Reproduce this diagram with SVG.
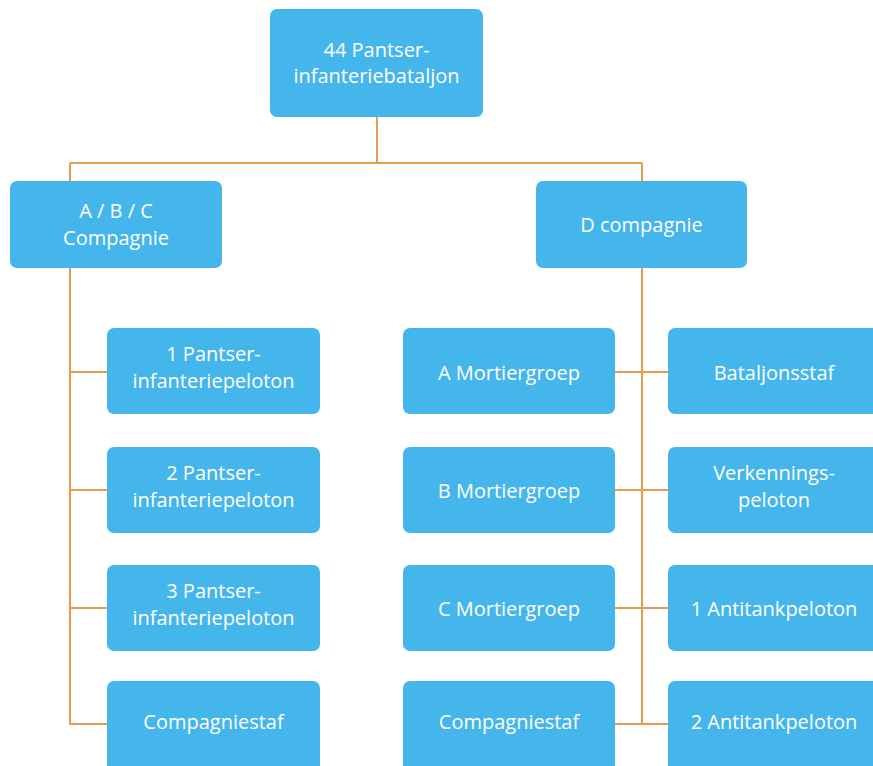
<svg xmlns="http://www.w3.org/2000/svg" width="873" height="766" viewBox="0 0 873 766">
<style>
.box{fill:#45b6eb;}
.lbl{font-family:"Open Sans","Noto Sans",sans-serif;font-size:20px;fill:#ffffff;text-anchor:middle;}
.ln{stroke:#e89a4f;stroke-width:2;fill:none;}
</style>
<rect width="873" height="766" fill="#ffffff"/>
<g id="connectors">
<path class="ln" d="M377 117 V163 M70 163 H642 M70 163 V181 M642 163 V181"/>
<path class="ln" d="M70 268 V724 H107 M70 372 H107 M70 490 H107 M70 608 H107"/>
<path class="ln" d="M642 268 V724 M615 372 H668 M615 490 H668 M615 608 H668 M615 724 H668"/>
</g>
<g id="n-top"><rect class="box" x="270" y="9" width="213" height="108" rx="7"/><text class="lbl" x="376.5" y="57">44 Pantser-</text><text class="lbl" x="376.5" y="83">infanteriebataljon</text></g>
<g id="n-abc"><rect class="box" x="10" y="181" width="212" height="87" rx="7"/><text class="lbl" x="116" y="218">A / B / C</text><text class="lbl" x="116" y="245">Compagnie</text></g>
<g id="n-d"><rect class="box" x="536" y="181" width="211" height="87" rx="7"/><text class="lbl" x="641.5" y="232">D compagnie</text></g>
<g id="n-p1"><rect class="box" x="107" y="328" width="213" height="86" rx="7"/><text class="lbl" x="213.5" y="361">1 Pantser-</text><text class="lbl" x="213.5" y="388">infanteriepeloton</text></g>
<g id="n-p2"><rect class="box" x="107" y="447" width="213" height="86" rx="7"/><text class="lbl" x="213.5" y="480">2 Pantser-</text><text class="lbl" x="213.5" y="507">infanteriepeloton</text></g>
<g id="n-p3"><rect class="box" x="107" y="565" width="213" height="86" rx="7"/><text class="lbl" x="213.5" y="598">3 Pantser-</text><text class="lbl" x="213.5" y="625">infanteriepeloton</text></g>
<g id="n-cs1"><rect class="box" x="107" y="681" width="213" height="92" rx="7"/><text class="lbl" x="213.5" y="729">Compagniestaf</text></g>
<g id="n-am"><rect class="box" x="403" y="328" width="212" height="86" rx="7"/><text class="lbl" x="509" y="380">A Mortiergroep</text></g>
<g id="n-bm"><rect class="box" x="403" y="447" width="212" height="86" rx="7"/><text class="lbl" x="509" y="498">B Mortiergroep</text></g>
<g id="n-cm"><rect class="box" x="403" y="565" width="212" height="86" rx="7"/><text class="lbl" x="509" y="616">C Mortiergroep</text></g>
<g id="n-cs2"><rect class="box" x="403" y="681" width="212" height="92" rx="7"/><text class="lbl" x="509" y="729">Compagniestaf</text></g>
<g id="n-bs"><rect class="box" x="668" y="328" width="215" height="86" rx="7"/><text class="lbl" x="774" y="380">Bataljonsstaf</text></g>
<g id="n-vp"><rect class="box" x="668" y="447" width="215" height="86" rx="7"/><text class="lbl" x="774" y="480">Verkennings-</text><text class="lbl" x="774" y="507">peloton</text></g>
<g id="n-a1"><rect class="box" x="668" y="565" width="215" height="86" rx="7"/><text class="lbl" x="774" y="616">1 Antitankpeloton</text></g>
<g id="n-a2"><rect class="box" x="668" y="681" width="215" height="92" rx="7"/><text class="lbl" x="774" y="729">2 Antitankpeloton</text></g>
</svg>
